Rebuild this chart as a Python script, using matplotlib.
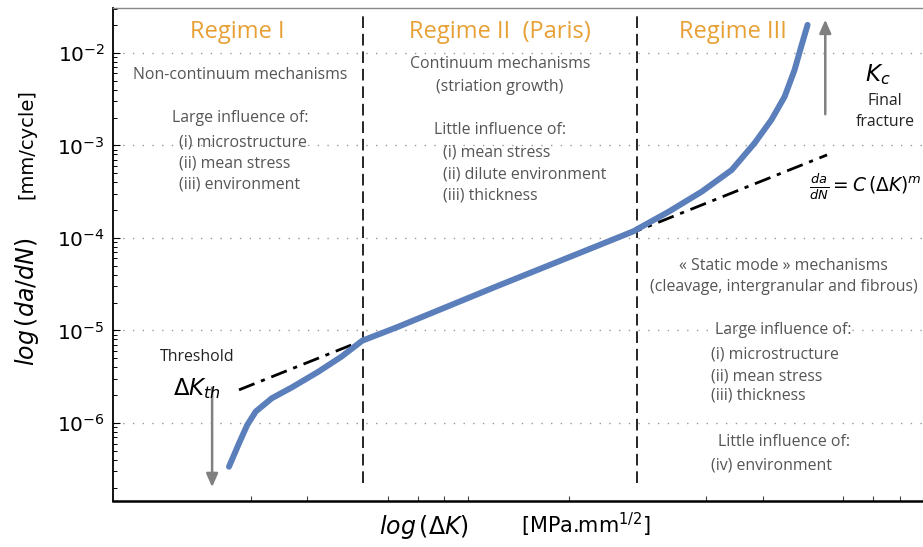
import matplotlib
matplotlib.use('Agg')
import matplotlib.pyplot as plt
import numpy as np

# Crack growth curve (da/dN vs Delta K)
delta_k = [2.69, 2.83, 2.95, 3.08, 3.34, 3.70, 4.23, 4.75, 5.28, 6.31,
           10.4, 17.2, 20.8, 24.9, 29.4, 34.2, 38.4, 41.8, 44.7, 47.0, 48.6, 50.2]
growth_rate = [3.37e-7, 6.03e-7, 9.51e-7, 1.33e-6, 1.85e-6, 2.43e-6, 3.59e-6, 5.21e-6,
               7.76e-6, 1.09e-5, 2.99e-5, 8.09e-5, 1.18e-4, 1.93e-4, 3.17e-4, 5.43e-4,
               1.06e-3, 1.89e-3, 3.37e-3, 6.55e-3, 1.17e-2, 2.01e-2]

# Paris law straight line (two ends)
paris_dk = [2.83, 55.4]
paris_rate = [2.28e-6, 7.9e-4]

# regime boundaries
regime_bounds = [5.30, 21.2]

# x ticks (no labels)
x_ticks = [3, 4, 6, 7, 8, 9, 15, 30, 40, 60, 70, 80, 90]

orange = '#E8A035'
grey_txt = '#555555'
blue = '#5B7FBB'

plt.rcParams['font.family'] = ['Open Sans', 'DejaVu Sans']
plt.rcParams['mathtext.fontset'] = 'dejavusans'

fig = plt.figure(figsize=(9.23, 5.47), dpi=100)
ax = fig.add_axes([0.1224, 0.0841, 0.8776, 0.9013])

ax.set_xscale('log')
ax.set_yscale('log')
ax.set_xlim(1.496, 87.0)
ax.set_ylim(1.435e-7, 0.0306)

# dotted decade lines
for d in [1e-6, 1e-5, 1e-4, 1e-3, 1e-2]:
    ax.axhline(d, color='#999999', lw=1.0, ls=(0, (1, 6)), zorder=1)

# regime boundaries
for b in regime_bounds:
    ax.plot([b, b], [2.25e-7, 0.025], color='black', lw=1.2, ls=(0, (7, 3.5)), zorder=2)

ax.plot(paris_dk, paris_rate, color='black', lw=2.0, ls=(0, (6, 2.5, 1.5, 2.5)), zorder=3)
ax.plot(delta_k, growth_rate, color=blue, lw=4.3, solid_capstyle='round', zorder=4)

# threshold and final fracture arrows
arrow = dict(arrowstyle='-|>,head_width=0.35,head_length=0.8', color='#808080', lw=1.8)
ax.annotate('', xy=(2.47, 1.89e-7), xytext=(2.47, 2.58e-6), arrowprops=arrow)
ax.annotate('', xy=(54.9, 0.0245), xytext=(54.9, 2.03e-3), arrowprops=arrow)

# axes styling
ax.spines['right'].set_visible(False)
ax.spines['top'].set_color('#888888')
ax.spines['top'].set_linewidth(1.0)
ax.spines['left'].set_linewidth(1.3)
ax.spines['bottom'].set_linewidth(1.8)

ax.set_xticks(x_ticks)
ax.set_xticks([], minor=True)
ax.set_xticklabels([])
ax.tick_params(axis='x', which='major', direction='in', length=3.5, width=0.8, colors='#444444')
ax.set_yticks([1e-6, 1e-5, 1e-4, 1e-3, 1e-2])
ax.tick_params(axis='y', which='major', direction='in', length=5, width=0.8, labelsize=14.5, pad=6)
ax.tick_params(axis='y', which='minor', direction='in', length=3, width=0.7)
for lab in ax.get_yticklabels():
    lab.set_fontfamily('DejaVu Sans')

# regime titles
fs_title = 17
fig.text(0.2568, 0.9415, 'Regime I', color=orange, fontsize=fs_title, ha='center', va='center')
fig.text(0.5417, 0.9415, 'Regime II  (Paris)', color=orange, fontsize=fs_title, ha='center', va='center')
fig.text(0.7941, 0.9415, 'Regime III', color=orange, fontsize=fs_title, ha='center', va='center')

fs = 11.4
def label(x, y, s, ha='center', color=grey_txt, size=fs):
    fig.text(x, y, s, color=color, fontsize=size, ha=ha, va='center')

# Regime I
label(0.2600, 0.8629, 'Non-continuum mechanisms')
label(0.2600, 0.7843, 'Large influence of:')
label(0.1939, 0.7404, '(i) microstructure', ha='left')
label(0.1939, 0.7002, '(ii) mean stress', ha='left')
label(0.1939, 0.6618, '(iii) environment', ha='left')

# Regime II
label(0.5417, 0.8830, 'Continuum mechanisms')
label(0.5417, 0.8410, '(striation growth)')
label(0.5417, 0.7623, 'Little influence of:')
label(0.4800, 0.7203, '(i) mean stress', ha='left')
label(0.4800, 0.6819, '(ii) dilute environment', ha='left')
label(0.4800, 0.6435, '(iii) thickness', ha='left')

# Regime III
label(0.8489, 0.5137, '\u00ab Static mode \u00bb mechanisms')
label(0.8489, 0.4753, '(cleavage, intergranular and fibrous)')
label(0.8483, 0.3967, 'Large influence of:')
label(0.7703, 0.3528, '(i) microstructure', ha='left')
label(0.7703, 0.3126, '(ii) mean stress', ha='left')
label(0.7703, 0.2761, '(iii) thickness', ha='left')
label(0.8494, 0.1925, 'Little influence of:')
label(0.7703, 0.1481, '(iv) environment', ha='left')

# threshold / fracture / Paris law notes
label(0.2134, 0.3473, 'Threshold', color='#222222')
fig.text(0.2134, 0.2888, r'$\Delta K_{th}$', fontsize=16.5, ha='center', va='center')
fig.text(0.9512, 0.8629, r'$K_c$', fontsize=16.5, ha='center', va='center')
label(0.9588, 0.8154, 'Final', color='#222222')
label(0.9588, 0.7770, 'fracture', color='#222222')
fig.text(0.8765, 0.6581, r'$\frac{da}{dN} = C\,(\Delta K)^m$', fontsize=13.4, ha='left', va='center')

# axis titles
fig.text(0.0293, 0.4479, r'$log\,(da/dN)$', fontsize=17, rotation=90, ha='center', va='center')
fig.text(0.0293, 0.7367, '[mm/cycle]', fontsize=14, rotation=90, ha='center', va='center',
         family='DejaVu Sans')
fig.text(0.4594, 0.0366, r'$log\,(\Delta K)$', fontsize=17, ha='center', va='center')
fig.text(0.6349, 0.0400, r'[MPa.mm$^{1/2}$]', fontsize=15, ha='center', va='center',
         family='DejaVu Sans')

fig.savefig('out.png', dpi=100)
